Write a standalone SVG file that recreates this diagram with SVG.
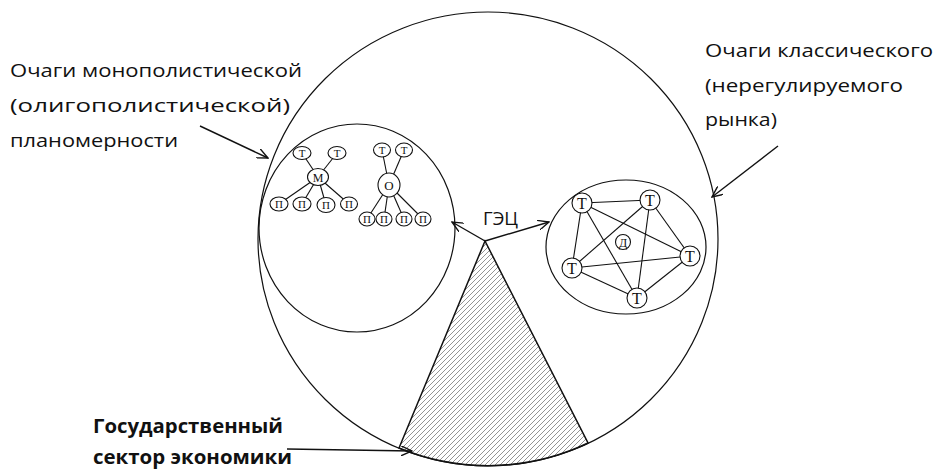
<svg xmlns="http://www.w3.org/2000/svg" width="935" height="470" viewBox="0 0 935 470">
<style>
.ln{fill:none;stroke:#111;stroke-width:1.2}
.edge{stroke:#111;stroke-width:1.1;fill:none}
.arr{stroke:#111;stroke-width:1.4;fill:none;marker-end:url(#open)}
.nd{fill:#fff;stroke:#111;stroke-width:1.1}
.lbl{font-family:"Open Sans","Liberation Sans",sans-serif;font-size:17.5px;fill:#111}
.bold{font-family:"Open Sans","Liberation Sans",sans-serif;font-size:19px;font-weight:700;fill:#111}
.ser{font-family:"Liberation Serif","DejaVu Serif",serif;fill:#111;text-anchor:middle}
</style>
<defs>
<marker id="open" viewBox="0 0 12 10" refX="11" refY="5" markerWidth="12" markerHeight="10" markerUnits="userSpaceOnUse" orient="auto">
<path d="M0,0 L11,5 L0,10" fill="none" stroke="#111" stroke-width="1.4"/>
</marker>
<pattern id="hatch" patternUnits="userSpaceOnUse" width="5" height="5">
<path d="M-1,6 L6,-1 M-1,1 L1,-1 M4,6 L6,4" stroke="#666" stroke-width="0.7"/>
</pattern>
</defs>
<rect width="935" height="470" fill="#fff"/>

<g id="economy">
<ellipse cx="488" cy="239" rx="230" ry="227" class="ln"/>
</g>

<g id="state-sector">
<path d="M485,241 L399,448 A230 227 0 0 0 588,443 Z" fill="url(#hatch)" stroke="#111" stroke-width="1.5"/>
</g>

<g id="monopoly-area">
<ellipse cx="357" cy="228" rx="98" ry="104" class="ln"/>
</g>

<g id="market-area">
<ellipse cx="626" cy="247" rx="80" ry="67" class="ln"/>
</g>

<g id="connectors">
<line class="edge" x1="318" y1="177" x2="302" y2="153"/>
<line class="edge" x1="318" y1="177" x2="337" y2="153"/>
<line class="edge" x1="318" y1="177" x2="279" y2="204"/>
<line class="edge" x1="318" y1="177" x2="302" y2="204"/>
<line class="edge" x1="318" y1="177" x2="326" y2="205"/>
<line class="edge" x1="318" y1="177" x2="349" y2="204"/>
<line class="edge" x1="389" y1="185" x2="382" y2="150"/>
<line class="edge" x1="389" y1="185" x2="404" y2="150"/>
<line class="edge" x1="389" y1="185" x2="367" y2="219"/>
<line class="edge" x1="389" y1="185" x2="384" y2="219"/>
<line class="edge" x1="389" y1="185" x2="404" y2="219"/>
<line class="edge" x1="389" y1="185" x2="423" y2="219"/>
<line class="edge" x1="582" y1="203" x2="650" y2="200"/>
<line class="edge" x1="582" y1="203" x2="690" y2="256"/>
<line class="edge" x1="582" y1="203" x2="572" y2="268"/>
<line class="edge" x1="582" y1="203" x2="637" y2="298"/>
<line class="edge" x1="650" y1="200" x2="690" y2="256"/>
<line class="edge" x1="650" y1="200" x2="572" y2="268"/>
<line class="edge" x1="650" y1="200" x2="637" y2="298"/>
<line class="edge" x1="690" y1="256" x2="572" y2="268"/>
<line class="edge" x1="690" y1="256" x2="637" y2="298"/>
<line class="edge" x1="572" y1="268" x2="637" y2="298"/>
<line class="arr" x1="200" y1="126" x2="268" y2="158"/>
<line class="arr" x1="778" y1="146" x2="712" y2="197"/>
<line class="arr" x1="287" y1="449" x2="412" y2="451"/>
<line class="arr" x1="485" y1="241" x2="452" y2="222"/>
<line class="arr" x1="485" y1="241" x2="549" y2="222"/>
</g>

<g id="node-m">
<ellipse class="nd" cx="318" cy="177" rx="10.5" ry="8.5"/>
<text class="ser" x="318" y="181.5" font-size="12">М</text>
</g>
<g id="node-m-t1"><ellipse class="nd" cx="302" cy="153" rx="9" ry="6.5"/><text class="ser" x="302" y="157" font-size="11">Т</text></g>
<g id="node-m-t2"><ellipse class="nd" cx="337" cy="153" rx="9" ry="6.5"/><text class="ser" x="337" y="157" font-size="11">Т</text></g>
<g id="node-m-p1"><ellipse class="nd" cx="279" cy="204" rx="9" ry="7"/><text class="ser" x="279" y="208" font-size="11">П</text></g>
<g id="node-m-p2"><ellipse class="nd" cx="302" cy="204" rx="9" ry="7"/><text class="ser" x="302" y="208" font-size="11">П</text></g>
<g id="node-m-p3"><ellipse class="nd" cx="326" cy="205" rx="9" ry="7.5"/><text class="ser" x="326" y="209" font-size="11">П</text></g>
<g id="node-m-p4"><ellipse class="nd" cx="349" cy="204" rx="8.5" ry="7"/><text class="ser" x="349" y="208" font-size="11">П</text></g>

<g id="node-o">
<ellipse class="nd" cx="389" cy="185" rx="11" ry="12"/>
<text class="ser" x="389" y="190" font-size="13">О</text>
</g>
<g id="node-o-t1"><ellipse class="nd" cx="382" cy="150" rx="8.5" ry="7"/><text class="ser" x="382" y="154" font-size="11">Т</text></g>
<g id="node-o-t2"><ellipse class="nd" cx="404" cy="150" rx="8.5" ry="7"/><text class="ser" x="404" y="154" font-size="11">Т</text></g>
<g id="node-o-p1"><ellipse class="nd" cx="367" cy="219" rx="8" ry="7"/><text class="ser" x="367" y="223" font-size="11">П</text></g>
<g id="node-o-p2"><ellipse class="nd" cx="384" cy="219" rx="8" ry="7"/><text class="ser" x="384" y="223" font-size="11">П</text></g>
<g id="node-o-p3"><ellipse class="nd" cx="404" cy="219" rx="8" ry="7"/><text class="ser" x="404" y="223" font-size="11">П</text></g>
<g id="node-o-p4"><ellipse class="nd" cx="423" cy="219" rx="8" ry="7"/><text class="ser" x="423" y="223" font-size="11">П</text></g>

<g id="node-t1"><circle class="nd" cx="582" cy="203" r="10"/><text class="ser" x="582" y="209" font-size="16">Т</text></g>
<g id="node-t2"><circle class="nd" cx="650" cy="200" r="10"/><text class="ser" x="650" y="206" font-size="16">Т</text></g>
<g id="node-t3"><circle class="nd" cx="690" cy="256" r="10"/><text class="ser" x="690" y="262" font-size="16">Т</text></g>
<g id="node-t4"><circle class="nd" cx="572" cy="268" r="10"/><text class="ser" x="572" y="274" font-size="16">Т</text></g>
<g id="node-t5"><circle class="nd" cx="637" cy="298" r="10"/><text class="ser" x="637" y="304" font-size="16">Т</text></g>
<g id="node-d"><circle class="nd" cx="623" cy="242" r="7.5"/><text class="ser" x="623" y="246.5" font-size="12">Д</text></g>

<g id="label-monopoly">
<text class="lbl" x="10" y="77" textLength="292" lengthAdjust="spacingAndGlyphs">Очаги монополистической</text>
<text class="lbl" x="10" y="112" textLength="280" lengthAdjust="spacingAndGlyphs">(олигополистической)</text>
<text class="lbl" x="10" y="147" textLength="168" lengthAdjust="spacingAndGlyphs">планомерности</text>
</g>
<g id="label-market">
<text class="lbl" x="705" y="57" textLength="228" lengthAdjust="spacingAndGlyphs">Очаги классического</text>
<text class="lbl" x="705" y="92" textLength="198" lengthAdjust="spacingAndGlyphs">(нерегулируемого</text>
<text class="lbl" x="705" y="126" textLength="72" lengthAdjust="spacingAndGlyphs">рынка)</text>
</g>
<g id="label-state">
<text class="bold" x="93" y="433" textLength="190" lengthAdjust="spacingAndGlyphs">Государственный</text>
<text class="bold" x="93" y="464" textLength="199" lengthAdjust="spacingAndGlyphs">сектор экономики</text>
</g>
<g id="label-gec">
<text class="lbl" x="483" y="225" font-size="17" textLength="35" lengthAdjust="spacingAndGlyphs">ГЭЦ</text>
</g>
</svg>
